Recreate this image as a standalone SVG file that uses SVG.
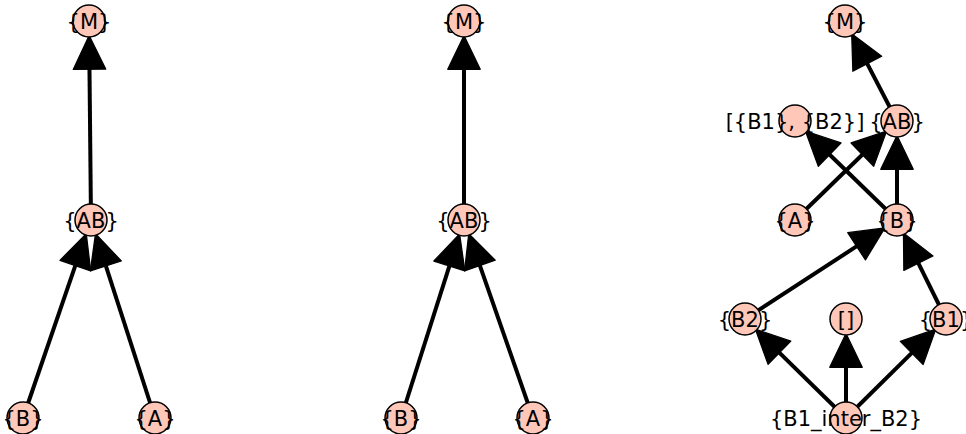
<svg xmlns="http://www.w3.org/2000/svg" width="966" height="434" viewBox="0 0 966 434">
<style>
.e{stroke:#000;stroke-width:4;fill:none;marker-end:url(#ah)}
.n circle{fill:#fec7b8;stroke:#000;stroke-width:1.5}
.n text{font-family:"DejaVu Sans",sans-serif;font-size:21px;text-anchor:middle;fill:#000}
</style>
<defs>
<marker id="ah" markerUnits="userSpaceOnUse" orient="auto" refX="1" refY="0" markerWidth="40" markerHeight="40" viewBox="-2 -15 32 30" overflow="visible">
<path d="M0,-13 L27,0 L0,13 Z" fill="#000" stroke="#000" stroke-width="1" stroke-linejoin="round"/>
</marker>
</defs>
<rect width="966" height="434" fill="#fff"/>
<g id="connectors">
<line class="e" x1="91" y1="220" x2="89.47" y2="68"/>
<line class="e" x1="23" y1="418" x2="75.73" y2="264.45"/>
<line class="e" x1="155" y1="418" x2="105.46" y2="264.72"/>
<line class="e" x1="464" y1="220" x2="464" y2="68"/>
<line class="e" x1="401" y1="418" x2="449.75" y2="264.79"/>
<line class="e" x1="533" y1="418" x2="479.47" y2="264.38"/>
<line class="e" x1="897" y1="121" x2="866.68" y2="62.7"/>
<line class="e" x1="795" y1="220" x2="863.27" y2="153.74"/>
<line class="e" x1="897" y1="220" x2="828.73" y2="153.74"/>
<line class="e" x1="897" y1="220" x2="897" y2="168"/>
<line class="e" x1="745" y1="319" x2="857.62" y2="245.65"/>
<line class="e" x1="946" y1="319" x2="917.85" y2="262.12"/>
<line class="e" x1="846" y1="418" x2="778.56" y2="351.9"/>
<line class="e" x1="846" y1="418" x2="846" y2="366"/>
<line class="e" x1="846" y1="418" x2="912.6" y2="352.07"/>
</g>
<g id="g1-M" class="n"><circle cx="89" cy="21" r="16"/><text x="89" y="28.5">{M}</text></g>
<g id="g1-AB" class="n"><circle cx="91" cy="220" r="16"/><text x="91" y="227.5">{AB}</text></g>
<g id="g1-B" class="n"><circle cx="23" cy="418" r="16"/><text x="23" y="425.5">{B}</text></g>
<g id="g1-A" class="n"><circle cx="155" cy="418" r="16"/><text x="155" y="425.5">{A}</text></g>
<g id="g2-M" class="n"><circle cx="464" cy="21" r="16"/><text x="464" y="28.5">{M}</text></g>
<g id="g2-AB" class="n"><circle cx="464" cy="220" r="16"/><text x="464" y="227.5">{AB}</text></g>
<g id="g2-B" class="n"><circle cx="401" cy="418" r="16"/><text x="401" y="425.5">{B}</text></g>
<g id="g2-A" class="n"><circle cx="533" cy="418" r="16"/><text x="533" y="425.5">{A}</text></g>
<g id="g3-M" class="n"><circle cx="845" cy="21" r="16"/><text x="845" y="28.5">{M}</text></g>
<g id="g3-L" class="n"><circle cx="795" cy="121" r="16"/><text x="795" y="128.5">[{B1}, {B2}]</text></g>
<g id="g3-AB" class="n"><circle cx="897" cy="121" r="16"/><text x="897" y="128.5">{AB}</text></g>
<g id="g3-A" class="n"><circle cx="795" cy="220" r="16"/><text x="795" y="227.5">{A}</text></g>
<g id="g3-B" class="n"><circle cx="897" cy="220" r="16"/><text x="897" y="227.5">{B}</text></g>
<g id="g3-B2" class="n"><circle cx="745" cy="319" r="16"/><text x="745" y="326.5">{B2}</text></g>
<g id="g3-E" class="n"><circle cx="846" cy="319" r="16"/><text x="846" y="326.5">[]</text></g>
<g id="g3-B1" class="n"><circle cx="946" cy="319" r="16"/><text x="946" y="326.5">{B1}</text></g>
<g id="g3-I" class="n"><circle cx="846" cy="418" r="16"/><text x="846" y="425.5">{B1_inter_B2}</text></g>
</svg>
